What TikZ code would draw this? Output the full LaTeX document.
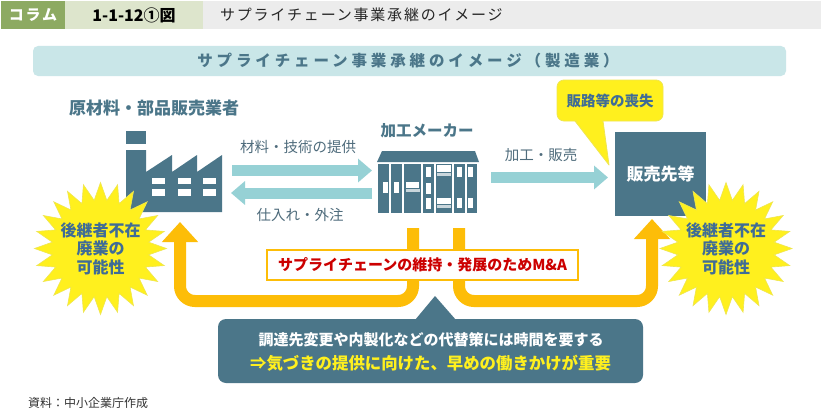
\documentclass[tikz,border=0pt]{standalone}
\usepackage{fontspec}
\usepackage{xcolor}
\setmainfont{Noto Sans CJK JP}
\newfontfamily\spaced[LetterSpace=25]{Noto Sans CJK JP}
\newfontfamily\spacedless[LetterSpace=12]{Noto Sans CJK JP}
\usetikzlibrary{arrows.meta,shapes.geometric}
\definecolor{slateblue}{HTML}{4B7689}
\definecolor{paleteal}{HTML}{96D1D5}
\definecolor{bandteal}{HTML}{C9E6E8}
\definecolor{burstyellow}{HTML}{FFF01E}
\definecolor{burstedge}{HTML}{EFE650}
\definecolor{arroworange}{HTML}{FDBD08}
\definecolor{inkblue}{HTML}{3F6C96}
\definecolor{labelgrey}{HTML}{4F6C7C}
\definecolor{tabgreen}{HTML}{8DAA62}
\definecolor{tabpale}{HTML}{DDE5CC}
\definecolor{tabgrey}{HTML}{ECECEC}
\newcommand{\fsz}[1]{\fontsize{#1}{#1}\selectfont}
\tikzset{
  txt/.style={inner sep=0pt,outer sep=0pt,align=center},
  heading/.style={txt,font=\fsz{15.5}\bfseries,text=slateblue},
  flowlabel/.style={txt,font=\fsz{14.5},text=labelgrey},
  burst/.style={star,star points=24,star point ratio=1.36,minimum size=132pt,inner sep=0pt,
    fill=burstyellow,draw=burstedge,line width=.6pt},
  bursttext/.style={txt,font=\fontsize{16}{18.5}\selectfont\bfseries,text=inkblue},
  tealarrow/.style={-{Triangle[length=14pt,width=23pt]},line width=11pt,paleteal},
  orangearrow/.style={line width=12pt,arroworange,rounded corners=15pt},
  orangetip/.style={-{Triangle[length=20pt,width=35pt]}}
}
\begin{document}
\begin{tikzpicture}[x=1pt,y=-1pt]
  \useasboundingbox (0,0) rectangle (821,412);
  % header
  \fill[white] (0,0) rectangle (821,412);
  \fill[tabgrey] (203,1) rectangle (821,29);
  \fill[tabpale] (65,1) rectangle (203,29);
  \fill[tabgreen] (1,1) rectangle (65,29);
  \node[txt,text=white,font=\spacedless\fsz{15}\bfseries] (tag) at (33,15) {コラム};
  \node[txt,font=\fsz{16}\bfseries] (fignum) at (134,15) {1-1-12①図};
  \node[txt,anchor=west,font=\spacedless\fsz{15},text=black!85] (figtitle) at (220,15) {サプライチェーン事業承継のイメージ};
  % band
  \fill[bandteal,rounded corners=5pt] (33,46) rectangle (786,76);
  \node[txt,text=slateblue,font=\spaced\fsz{15.5}\bfseries] (bandtitle) at (408,61) {サプライチェーン事業承継のイメージ（製造業）};
  % factory
  \node[heading,font=\fsz{17}\bfseries] (maker) at (154,108) {原材料・部品販売業者};
  \fill[slateblue] (126,131) rectangle (146,144);
  \fill[slateblue] (126,150) -- (146,150) -- (146,172) -- (172,155) -- (172,172) -- (197,155)
    -- (197,172) -- (222,155) -- (222,212) -- (126,212) -- cycle;
  \foreach \wx in {152,178,203} {
    \fill[white] (\wx,178) rectangle +(13,6);
    \fill[white] (\wx,189) rectangle +(13,7);
  }
  % building
  \node[heading] (proc) at (427,131) {加工メーカー};
  \fill[slateblue] (382,151) -- (475,151) -- (479,162) -- (377,162) -- cycle;
  \foreach \cl/\cr in {378/389,391/402,404/421,423/434,436/452,454/465,467/477}
    \fill[slateblue] (\cl,164) rectangle (\cr,213);
  \foreach \wl/\wt/\wr/\wb in {383/182/388/193,394/182/399/193,426/167/431/177,426/183/431/194,426/198/431/209,
      457/167/462/177,457/198/462/208,468/167/473/177,468/198/473/208,
      406/182/419/188,437/165/451/172,437/198/451/204}
    \fill[white] (\wl,\wt) rectangle (\wr,\wb);
  \foreach \dl/\dt in {406/189,437/173,437/204.5}
    \fill[white!70!slateblue] (\dl,\dt) rectangle +(13.5,3);
  % flows between firms
  \node[flowlabel] (supply) at (298,147) {材料・技術の提供};
  \coordinate (supplyA) at (232,170.5);
  \coordinate (supplyB) at (372,170.5);
  \draw[tealarrow] (supplyA) -- (supplyB);
  \coordinate (buyA) at (372,193);
  \coordinate (buyB) at (231,193);
  \draw[tealarrow] (buyA) -- (buyB);
  \node[flowlabel] (buy) at (300,215) {仕入れ・外注};
  \node[flowlabel] (sale) at (541,155) {加工・販売};
  \coordinate (saleA) at (491,177.5);
  \coordinate (saleB) at (608,177.5);
  \draw[tealarrow] (saleA) -- (saleB);
  % customer
  \node[fill=slateblue,minimum width=91pt,minimum height=84pt,inner sep=0pt,text=white,font=\fsz{17}\bfseries] (customer) at (660.5,174) {販売先等};
  % callout
  \filldraw[fill=burstyellow,draw=burstedge,line width=.8pt,line join=round]
    (575,121) -- (609,165) -- (603,121) -- cycle;
  \node[fill=burstyellow,draw=burstedge,line width=.8pt,rounded corners=7pt,minimum width=106pt,minimum height=41pt,inner sep=0pt,
    text=inkblue,font=\fsz{14.5}\bfseries] (loss) at (610,100.5) {販路等の喪失};
  \fill[burstyellow] (576.5,119.5) rectangle (601.5,122);
  % orange arrows
  \coordinate (midL) at (413,228);
  \coordinate (midR) at (459,228);
  \coordinate (arrL) at (180,222);
  \coordinate (arrR) at (652,219);
  \draw[orangearrow,orangetip] (midL) |- (180,301) -- (arrL);
  \draw[orangearrow,orangetip] (midR) |- (652,301) -- (arrR);
  % bursts
  \node[burst] (burstL) at (100.5,248.5) {};
  \node[burst] (burstR) at (726,248.5) {};
  \node[bursttext] (burstLtext) at (burstL) {後継者不在\\廃業の\\可能性};
  \node[bursttext] (burstRtext) at (burstR) {後継者不在\\廃業の\\可能性};
  % M&A label
  \node[fill=white,draw=arroworange,line width=2pt,minimum width=311pt,minimum height=30pt,inner sep=0pt,
    text=red!80!black,font=\fsz{15}\bfseries] (mna) at (422.5,264.5) {サプライチェーンの維持・発展のためM\&A};
  % note
  \fill[slateblue] (415,320) -- (435,296) -- (456,320) -- cycle;
  \fill[slateblue,rounded corners=8pt] (218,319) rectangle (643,383);
  \node[txt,text=white,font=\fsz{15}\bfseries] (note1) at (431,340) {調達先変更や内製化などの代替策には時間を要する};
  \node[txt,text=burstyellow,font=\fsz{16.4}\bfseries] (note2) at (430.5,363) {⇒気づきの提供に向けた、早めの働きかけが重要};
  % source
  \node[txt,anchor=west,font=\fsz{12},text=black!80] (source) at (28,403) {資料：中小企業庁作成};
\end{tikzpicture}
\end{document}
